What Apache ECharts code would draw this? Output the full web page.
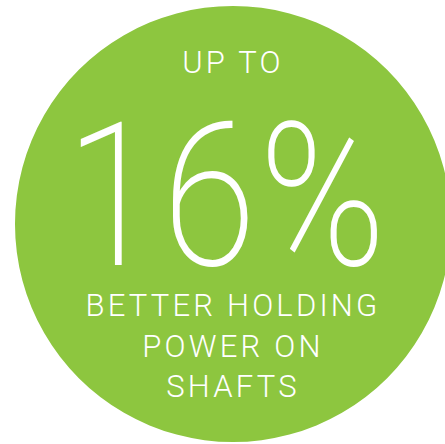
<!DOCTYPE html>
<html><head><meta charset="utf-8">
<script src="https://cdn.jsdelivr.net/npm/echarts@6/dist/echarts.min.js"></script>
<style>html,body{margin:0;padding:0;background:#fff}#c{width:445px;height:444px}#c svg text{letter-spacing:3.2px}</style>
</head><body><div id="c"></div>
<script>
const statValue = [16];
const topLabel = ['UP TO'];
const bottomLines = ['BETTER HOLDING', 'POWER ON', 'SHAFTS'];
const green = '#8DC63F';
const chart = echarts.init(document.getElementById('c'), null, {renderer: 'svg'});
const cx = 233, cy = 224;
function txt(text, x, y, family, size, weight, sx) {
  return {type:'text', z: 100, x: x, y: y, scaleX: sx || 1, style:{text: text, fill:'#fff', fontFamily: family, fontSize: size, fontWeight: weight || 'normal', align:'center', verticalAlign:'middle'}};
}
chart.setOption({
  animation: false,
  series: [{
    type: 'pie', silent: true, center: [cx, cy], radius: [0, 218], z: 1,
    label: {show: false}, labelLine: {show: false},
    itemStyle: {color: green},
    data: [{value: 100}]
  }],
  graphic: {elements: [
    txt(topLabel[0], cx, 62, 'Roboto', 31, 300),
    txt(statValue[0] + '%', 227, 197, 'Roboto', 201, 200, 0.85),
    txt(bottomLines[0], cx, 305, 'Roboto', 31, 300),
    txt(bottomLines[1], cx, 346, 'Roboto', 31, 300),
    txt(bottomLines[2], cx, 386, 'Roboto', 31, 300)
  ]}
});
</script></body></html>
